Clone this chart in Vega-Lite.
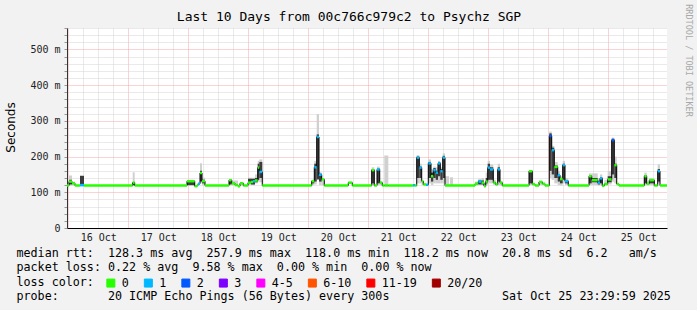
{
  "$schema": "https://vega.github.io/schema/vega-lite/v6.json",
  "width": 600,
  "height": 200,
  "autosize": {"type": "none"},
  "padding": {"left": 67, "top": 28, "right": 30, "bottom": 82},
  "background": "#f2f2f2",
  "title": {"text": "Last 10 Days from 00c766c979c2 to Psychz SGP", "font": "DejaVu Sans Mono", "fontSize": 13, "fontWeight": "normal", "color": "#000", "anchor": "middle", "frame": "group", "dx": -18, "offset": -20},
  "config": {
    "view": {"fill": "white", "stroke": null},
    "axis": {"labelFont": "DejaVu Sans Mono", "labelFontSize": 10, "labelColor": "#222"}
  },
  "resolve": {"axis": {"y": "independent"}},
  "data": {"values": [
    {"t":"2025-10-15T23:30Z","t2":"2025-10-16T00:18Z","med":119,"loss":"0"},
    {"t":"2025-10-16T00:18Z","t2":"2025-10-16T01:30Z","med":130,"loss":"0","lo":119,"hi":147,"dlo":122,"dhi":135},
    {"t":"2025-10-16T01:30Z","t2":"2025-10-16T02:42Z","med":125,"loss":"0","lo":119,"hi":130},
    {"t":"2025-10-16T02:42Z","t2":"2025-10-16T04:42Z","med":119,"loss":"0"},
    {"t":"2025-10-16T04:42Z","t2":"2025-10-16T06:18Z","med":120,"loss":"1","lo":119,"hi":147,"dlo":120,"dhi":146},
    {"t":"2025-10-16T06:18Z","t2":"2025-10-17T01:47Z","med":119,"loss":"0"},
    {"t":"2025-10-17T01:47Z","t2":"2025-10-17T02:35Z","med":127,"loss":"0","lo":119,"hi":156,"dlo":120,"dhi":127},
    {"t":"2025-10-17T02:35Z","t2":"2025-10-17T23:30Z","med":119,"loss":"0"},
    {"t":"2025-10-17T23:30Z","t2":"2025-10-18T02:35Z","med":131,"loss":"0","lo":119,"hi":133,"dlo":120,"dhi":131},
    {"t":"2025-10-18T02:35Z","t2":"2025-10-18T03:30Z","med":117,"loss":"0"},
    {"t":"2025-10-18T03:30Z","t2":"2025-10-18T03:54Z","med":119,"loss":"0"},
    {"t":"2025-10-18T03:54Z","t2":"2025-10-18T04:42Z","med":124,"loss":"1"},
    {"t":"2025-10-18T04:42Z","t2":"2025-10-18T05:30Z","med":154,"loss":"0","lo":125,"hi":181,"dlo":130,"dhi":160},
    {"t":"2025-10-18T05:30Z","t2":"2025-10-18T06:42Z","med":131,"loss":"0","lo":120,"hi":141,"dlo":125,"dhi":135},
    {"t":"2025-10-18T06:42Z","t2":"2025-10-18T16:18Z","med":119,"loss":"0"},
    {"t":"2025-10-18T16:18Z","t2":"2025-10-18T17:23Z","med":134,"loss":"0","lo":120,"hi":136,"dlo":122,"dhi":134},
    {"t":"2025-10-18T17:23Z","t2":"2025-10-18T18:42Z","med":125,"loss":"0","lo":119,"hi":133},
    {"t":"2025-10-18T18:42Z","t2":"2025-10-18T19:54Z","med":120,"loss":"0","lo":119,"hi":133},
    {"t":"2025-10-18T19:54Z","t2":"2025-10-18T20:42Z","med":117,"loss":"0"},
    {"t":"2025-10-18T20:42Z","t2":"2025-10-18T22:01Z","med":125,"loss":"0","lo":119,"hi":128},
    {"t":"2025-10-18T22:01Z","t2":"2025-10-18T23:54Z","med":119,"loss":"0"},
    {"t":"2025-10-18T23:54Z","t2":"2025-10-19T01:06Z","med":127,"loss":"0","lo":120,"hi":141,"dlo":125,"dhi":138},
    {"t":"2025-10-19T01:06Z","t2":"2025-10-19T01:54Z","med":129,"loss":"0","lo":120,"hi":141,"dlo":122,"dhi":138},
    {"t":"2025-10-19T01:54Z","t2":"2025-10-19T02:42Z","med":131,"loss":"1","lo":120,"hi":141,"dlo":122,"dhi":138},
    {"t":"2025-10-19T02:42Z","t2":"2025-10-19T03:47Z","med":133,"loss":"0","lo":125,"hi":150,"dlo":128,"dhi":140},
    {"t":"2025-10-19T03:47Z","t2":"2025-10-19T04:25Z","med":169,"loss":"0","lo":130,"hi":188,"dlo":135,"dhi":180},
    {"t":"2025-10-19T04:25Z","t2":"2025-10-19T05:37Z","med":157,"loss":"1","lo":128,"hi":192,"dlo":140,"dhi":185},
    {"t":"2025-10-19T05:37Z","t2":"2025-10-20T01:23Z","med":119,"loss":"0"},
    {"t":"2025-10-20T01:23Z","t2":"2025-10-20T02:25Z","med":131,"loss":"0","lo":120,"hi":135,"dlo":125,"dhi":133},
    {"t":"2025-10-20T02:25Z","t2":"2025-10-20T03:23Z","med":170,"loss":"1","lo":122,"hi":188,"dlo":130,"dhi":180},
    {"t":"2025-10-20T03:23Z","t2":"2025-10-20T04:18Z","med":255,"loss":"1","lo":136,"hi":319,"dlo":136,"dhi":262},
    {"t":"2025-10-20T04:18Z","t2":"2025-10-20T05:23Z","med":149,"loss":"1","lo":120,"hi":156,"dlo":130,"dhi":152},
    {"t":"2025-10-20T05:23Z","t2":"2025-10-20T06:25Z","med":136,"loss":"0","lo":119,"hi":140},
    {"t":"2025-10-20T06:25Z","t2":"2025-10-20T16:01Z","med":119,"loss":"0"},
    {"t":"2025-10-20T16:01Z","t2":"2025-10-20T17:37Z","med":127,"loss":"0"},
    {"t":"2025-10-20T17:37Z","t2":"2025-10-21T01:23Z","med":119,"loss":"0"},
    {"t":"2025-10-21T01:23Z","t2":"2025-10-21T02:25Z","med":162,"loss":"0","lo":120,"hi":170,"dlo":125,"dhi":165},
    {"t":"2025-10-21T02:25Z","t2":"2025-10-21T03:30Z","med":119,"loss":"0"},
    {"t":"2025-10-21T03:30Z","t2":"2025-10-21T04:35Z","med":164,"loss":"1","lo":120,"hi":172,"dlo":125,"dhi":166},
    {"t":"2025-10-21T04:35Z","t2":"2025-10-21T05:37Z","med":127,"loss":"0","lo":119,"hi":130},
    {"t":"2025-10-21T05:37Z","t2":"2025-10-21T06:25Z","med":119,"loss":"0"},
    {"t":"2025-10-21T06:25Z","t2":"2025-10-21T08:01Z","med":119,"loss":"0","lo":119,"hi":203},
    {"t":"2025-10-21T08:01Z","t2":"2025-10-21T17:54Z","med":119,"loss":"0"},
    {"t":"2025-10-21T17:54Z","t2":"2025-10-21T18:42Z","med":120,"loss":"1"},
    {"t":"2025-10-21T18:42Z","t2":"2025-10-21T19:23Z","med":119,"loss":"0"},
    {"t":"2025-10-21T19:23Z","t2":"2025-10-21T20:25Z","med":197,"loss":"1","lo":125,"hi":204,"dlo":140,"dhi":200},
    {"t":"2025-10-21T20:25Z","t2":"2025-10-21T21:23Z","med":169,"loss":"1","lo":125,"hi":180,"dlo":140,"dhi":172},
    {"t":"2025-10-21T21:23Z","t2":"2025-10-21T22:01Z","med":131,"loss":"0","lo":120,"hi":135},
    {"t":"2025-10-21T22:01Z","t2":"2025-10-21T23:06Z","med":122,"loss":"0"},
    {"t":"2025-10-21T23:06Z","t2":"2025-10-22T00:01Z","med":121,"loss":"1"},
    {"t":"2025-10-22T00:01Z","t2":"2025-10-22T01:06Z","med":181,"loss":"1","lo":125,"hi":192,"dlo":140,"dhi":185},
    {"t":"2025-10-22T01:06Z","t2":"2025-10-22T02:01Z","med":145,"loss":"0","lo":120,"hi":165,"dlo":130,"dhi":155},
    {"t":"2025-10-22T02:01Z","t2":"2025-10-22T02:59Z","med":162,"loss":"1","lo":125,"hi":172,"dlo":140,"dhi":168},
    {"t":"2025-10-22T02:59Z","t2":"2025-10-22T03:54Z","med":155,"loss":"1","lo":125,"hi":170,"dlo":135,"dhi":160},
    {"t":"2025-10-22T03:54Z","t2":"2025-10-22T04:49Z","med":181,"loss":"1","lo":125,"hi":188,"dlo":145,"dhi":185},
    {"t":"2025-10-22T04:49Z","t2":"2025-10-22T05:47Z","med":159,"loss":"1","lo":125,"hi":170,"dlo":135,"dhi":165},
    {"t":"2025-10-22T05:47Z","t2":"2025-10-22T06:42Z","med":197,"loss":"1","lo":125,"hi":209,"dlo":140,"dhi":202},
    {"t":"2025-10-22T06:42Z","t2":"2025-10-22T08:18Z","med":119,"loss":"0","lo":119,"hi":145},
    {"t":"2025-10-22T08:18Z","t2":"2025-10-22T08:42Z","med":119,"loss":"0"},
    {"t":"2025-10-22T08:42Z","t2":"2025-10-22T09:54Z","med":119,"loss":"0","lo":119,"hi":142},
    {"t":"2025-10-22T09:54Z","t2":"2025-10-22T18:42Z","med":119,"loss":"0"},
    {"t":"2025-10-22T18:42Z","t2":"2025-10-22T20:01Z","med":124,"loss":"0","lo":119,"hi":130},
    {"t":"2025-10-22T20:01Z","t2":"2025-10-22T21:23Z","med":130,"loss":"1","lo":120,"hi":138,"dlo":122,"dhi":133},
    {"t":"2025-10-22T21:23Z","t2":"2025-10-22T22:18Z","med":127,"loss":"0","lo":120,"hi":140,"dlo":122,"dhi":133},
    {"t":"2025-10-22T22:18Z","t2":"2025-10-22T22:59Z","med":117,"loss":"0"},
    {"t":"2025-10-22T22:59Z","t2":"2025-10-22T23:47Z","med":130,"loss":"0","lo":120,"hi":155,"dlo":125,"dhi":140},
    {"t":"2025-10-22T23:47Z","t2":"2025-10-23T00:42Z","med":169,"loss":"1","lo":125,"hi":188,"dlo":135,"dhi":180},
    {"t":"2025-10-23T00:42Z","t2":"2025-10-23T02:01Z","med":164,"loss":"1","lo":125,"hi":178,"dlo":135,"dhi":170},
    {"t":"2025-10-23T02:01Z","t2":"2025-10-23T02:59Z","med":127,"loss":"0","lo":120,"hi":135},
    {"t":"2025-10-23T02:59Z","t2":"2025-10-23T03:47Z","med":122,"loss":"0"},
    {"t":"2025-10-23T03:47Z","t2":"2025-10-23T04:42Z","med":164,"loss":"1","lo":120,"hi":180,"dlo":130,"dhi":170},
    {"t":"2025-10-23T04:42Z","t2":"2025-10-23T05:37Z","med":127,"loss":"0","lo":119,"hi":132},
    {"t":"2025-10-23T05:37Z","t2":"2025-10-23T16:18Z","med":119,"loss":"0"},
    {"t":"2025-10-23T16:18Z","t2":"2025-10-23T17:37Z","med":159,"loss":"0","lo":120,"hi":162,"dlo":125,"dhi":160},
    {"t":"2025-10-23T17:37Z","t2":"2025-10-23T18:42Z","med":123,"loss":"0"},
    {"t":"2025-10-23T18:42Z","t2":"2025-10-23T20:18Z","med":119,"loss":"0"},
    {"t":"2025-10-23T20:18Z","t2":"2025-10-23T21:37Z","med":129,"loss":"0","lo":120,"hi":132},
    {"t":"2025-10-23T21:37Z","t2":"2025-10-23T22:42Z","med":124,"loss":"0"},
    {"t":"2025-10-23T22:42Z","t2":"2025-10-24T00:25Z","med":119,"loss":"0"},
    {"t":"2025-10-24T00:25Z","t2":"2025-10-24T01:23Z","med":258,"loss":"2","lo":140,"hi":270,"dlo":160,"dhi":265},
    {"t":"2025-10-24T01:23Z","t2":"2025-10-24T02:25Z","med":218,"loss":"1","lo":135,"hi":230,"dlo":150,"dhi":225},
    {"t":"2025-10-24T02:25Z","t2":"2025-10-24T03:47Z","med":171,"loss":"0","lo":125,"hi":185,"dlo":140,"dhi":175},
    {"t":"2025-10-24T03:47Z","t2":"2025-10-24T04:42Z","med":148,"loss":"1","lo":120,"hi":160,"dlo":130,"dhi":150},
    {"t":"2025-10-24T04:42Z","t2":"2025-10-24T05:47Z","med":137,"loss":"0","lo":119,"hi":145,"dlo":125,"dhi":140},
    {"t":"2025-10-24T05:47Z","t2":"2025-10-24T06:42Z","med":176,"loss":"1","lo":125,"hi":188,"dlo":135,"dhi":180},
    {"t":"2025-10-24T06:42Z","t2":"2025-10-24T08:01Z","med":131,"loss":"1","lo":120,"hi":140,"dlo":125,"dhi":133},
    {"t":"2025-10-24T08:01Z","t2":"2025-10-24T16:18Z","med":119,"loss":"0"},
    {"t":"2025-10-24T16:18Z","t2":"2025-10-24T17:23Z","med":145,"loss":"0","lo":120,"hi":153,"dlo":125,"dhi":148},
    {"t":"2025-10-24T17:23Z","t2":"2025-10-24T19:47Z","med":134,"loss":"0","lo":120,"hi":153,"dlo":128,"dhi":140},
    {"t":"2025-10-24T19:47Z","t2":"2025-10-24T20:42Z","med":127,"loss":"1","lo":119,"hi":140,"dlo":122,"dhi":132},
    {"t":"2025-10-24T20:42Z","t2":"2025-10-24T21:37Z","med":139,"loss":"1","lo":120,"hi":150,"dlo":125,"dhi":142},
    {"t":"2025-10-24T21:37Z","t2":"2025-10-24T22:25Z","med":118,"loss":"0"},
    {"t":"2025-10-24T22:25Z","t2":"2025-10-24T23:47Z","med":123,"loss":"0","lo":120,"hi":135},
    {"t":"2025-10-24T23:47Z","t2":"2025-10-25T01:23Z","med":136,"loss":"0","lo":122,"hi":160,"dlo":128,"dhi":145},
    {"t":"2025-10-25T01:23Z","t2":"2025-10-25T02:25Z","med":246,"loss":"2","lo":130,"hi":253,"dlo":150,"dhi":250},
    {"t":"2025-10-25T02:25Z","t2":"2025-10-25T03:23Z","med":176,"loss":"0","lo":125,"hi":200,"dlo":140,"dhi":180},
    {"t":"2025-10-25T03:23Z","t2":"2025-10-25T04:18Z","med":123,"loss":"0"},
    {"t":"2025-10-25T04:18Z","t2":"2025-10-25T14:25Z","med":119,"loss":"0"},
    {"t":"2025-10-25T14:25Z","t2":"2025-10-25T15:23Z","med":145,"loss":"0","lo":120,"hi":155,"dlo":125,"dhi":148},
    {"t":"2025-10-25T15:23Z","t2":"2025-10-25T16:25Z","med":124,"loss":"0","lo":119,"hi":130},
    {"t":"2025-10-25T16:25Z","t2":"2025-10-25T18:25Z","med":134,"loss":"0","lo":120,"hi":140,"dlo":125,"dhi":135},
    {"t":"2025-10-25T18:25Z","t2":"2025-10-25T19:47Z","med":119,"loss":"0"},
    {"t":"2025-10-25T19:47Z","t2":"2025-10-25T20:42Z","med":159,"loss":"1","lo":125,"hi":178,"dlo":130,"dhi":165},
    {"t":"2025-10-25T20:42Z","t2":"2025-10-25T23:30Z","med":119,"loss":"0"},
    {"t":"2025-10-25T23:30Z","t2":"2025-10-25T23:30Z","med":119,"loss":"0"}
  ]},
  "encoding": {
    "x": {"field": "t", "type": "temporal",
      "scale": {"type": "utc", "domain": [{"year": 2025, "month": 10, "date": 15, "hours": 23, "minutes": 30, "utc": true}, {"year": 2025, "month": 10, "date": 25, "hours": 23, "minutes": 30, "utc": true}]},
      "axis": {
        "values": [1760572800000,1760594400000,1760616000000,1760637600000,1760659200000,1760680800000,1760702400000,1760724000000,1760745600000,1760767200000,1760788800000,1760810400000,1760832000000,1760853600000,1760875200000,1760896800000,1760918400000,1760940000000,1760961600000,1760983200000,1761004800000,1761026400000,1761048000000,1761069600000,1761091200000,1761112800000,1761134400000,1761156000000,1761177600000,1761199200000,1761220800000,1761242400000,1761264000000,1761285600000,1761307200000,1761328800000,1761350400000,1761372000000,1761393600000,1761415200000],
        "labelExpr": "utchours(datum.value) == 0 ? utcFormat(datum.value, '%d %b') : ''",
        "labelOffset": 30, "labelOverlap": false, "labelFlush": false, "labelPadding": 4,
        "ticks": false,
        "domainColor": "#000",
        "grid": true,
        "gridColor": {"condition": {"test": "utchours(datum.value) == 0", "value": "#f0a8a8"}, "value": "#d4d4d4"},
        "gridDash": [1, 1],
        "title": ["median rtt:\u00a0\u00a0128.3 ms avg\u00a0\u00a0257.9 ms max\u00a0\u00a0118.0 ms min\u00a0\u00a0118.2 ms now\u00a0\u00a020.8 ms sd\u00a0\u00a06.2\u00a0\u00a0\u00a0am/s",
                  "packet loss: 0.22 % avg\u00a0\u00a09.58 % max\u00a0\u00a00.00 % min\u00a0\u00a00.00 % now",
                  "loss color:",
                  "probe:\u00a0\u00a0\u00a0\u00a0\u00a0\u00a0\u00a020 ICMP Echo Pings (56 Bytes) every 300s\u00a0\u00a0\u00a0\u00a0\u00a0\u00a0\u00a0\u00a0\u00a0\u00a0\u00a0\u00a0\u00a0\u00a0\u00a0\u00a0Sat Oct 25 23:29:59 2025"],
        "titleX": -51, "titleY": 19, "titleAlign": "left", "titleAnchor": "start", "titleBaseline": "top",
        "titleFont": "DejaVu Sans Mono", "titleFontSize": 11.7, "titleFontWeight": "normal", "titleColor": "#000", "titleLineHeight": 14.6
      }}
  },
  "layer": [
    {
      "transform": [{"filter": "isValid(datum.hi)"}],
      "mark": {"type": "rect", "color": "#d0d0d0"},
      "encoding": {
        "x2": {"field": "t2"},
        "y": {"field": "lo", "type": "quantitative",
          "scale": {"domain": [0, 560], "nice": false},
          "axis": {
            "orient": "left",
            "title": "Seconds",
            "values": [0,20,40,60,80,100,120,140,160,180,200,220,240,260,280,300,320,340,360,380,400,420,440,460,480,500,520,540,560],
            "labelExpr": "datum.value % 100 == 0 ? (datum.value == 0 ? '0' : datum.value + ' m') : ''",
            "labelOverlap": false, "labelPadding": 4,
            "tickSize": 3, "tickColor": "#999",
            "domainColor": "#333",
            "grid": true,
            "gridColor": {"condition": {"test": "datum.value % 100 == 0", "value": "#f0a8a8"}, "value": "#d4d4d4"},
            "gridDash": [1, 1],
            "titleX": -57, "titleY": 99, "titleAngle": 270, "titleAlign": "center", "titleBaseline": "middle",
            "titleFont": "DejaVu Sans", "titleFontSize": 12, "titleFontWeight": "normal", "titleColor": "#000"
          }},
        "y2": {"field": "hi"}
      }
    },
    {
      "transform": [{"filter": "isValid(datum.dhi)"}],
      "mark": {"type": "rect", "color": "#3c3c3c"},
      "encoding": {
        "x2": {"field": "t2"},
        "y": {"field": "dlo", "type": "quantitative", "axis": null},
        "y2": {"field": "dhi"}
      }
    },
    {
      "mark": {"type": "line", "interpolate": "step-after", "color": "#000", "strokeWidth": 1},
      "encoding": {
        "y": {"field": "med", "type": "quantitative",
          "axis": {"orient": "right", "labels": false, "ticks": false, "domain": false, "grid": false,
            "title": "RRDTOOL / TOBI OETIKER", "titleAngle": 90, "titleX": 21, "titleY": 32,
            "titleAlign": "center", "titleBaseline": "middle",
            "titleFont": "DejaVu Sans Mono", "titleFontSize": 8.5, "titleFontWeight": "normal", "titleColor": "#a8a8a8"}}
      }
    },
    {
      "mark": {"type": "rule", "strokeWidth": 2.5, "strokeCap": "butt"},
      "encoding": {
        "x2": {"field": "t2"},
        "y": {"field": "med", "type": "quantitative", "axis": null},
        "color": {"field": "loss", "type": "nominal",
          "scale": {"domain": ["0","1","2","3","4-5","6-10","11-19","20/20"],
                    "range": ["#26ff00","#00b8ff","#0059ff","#7e00ff","#ff00ff","#ff5500","#ff0000","#a10000"]},
          "legend": {"orient": "none", "legendX": 38, "legendY": 249, "direction": "horizontal", "title": null,
            "labelFont": "DejaVu Sans Mono", "labelFontSize": 11.7, "labelColor": "#000",
            "labelOffset": 5, "columnPadding": 12.5, "padding": 0,
            "symbolType": "square", "symbolSize": 64,
            "encode": {"symbols": {"update": {
              "fill": {"scale": "color", "field": "value"},
              "stroke": {"value": "#000"},
              "strokeWidth": {"value": 1},
              "shape": {"value": "square"},
              "size": {"value": 64},
              "opacity": {"value": 1},
              "fillOpacity": {"value": 1}
            }}}}
        }
      }
    }
  ]
}
